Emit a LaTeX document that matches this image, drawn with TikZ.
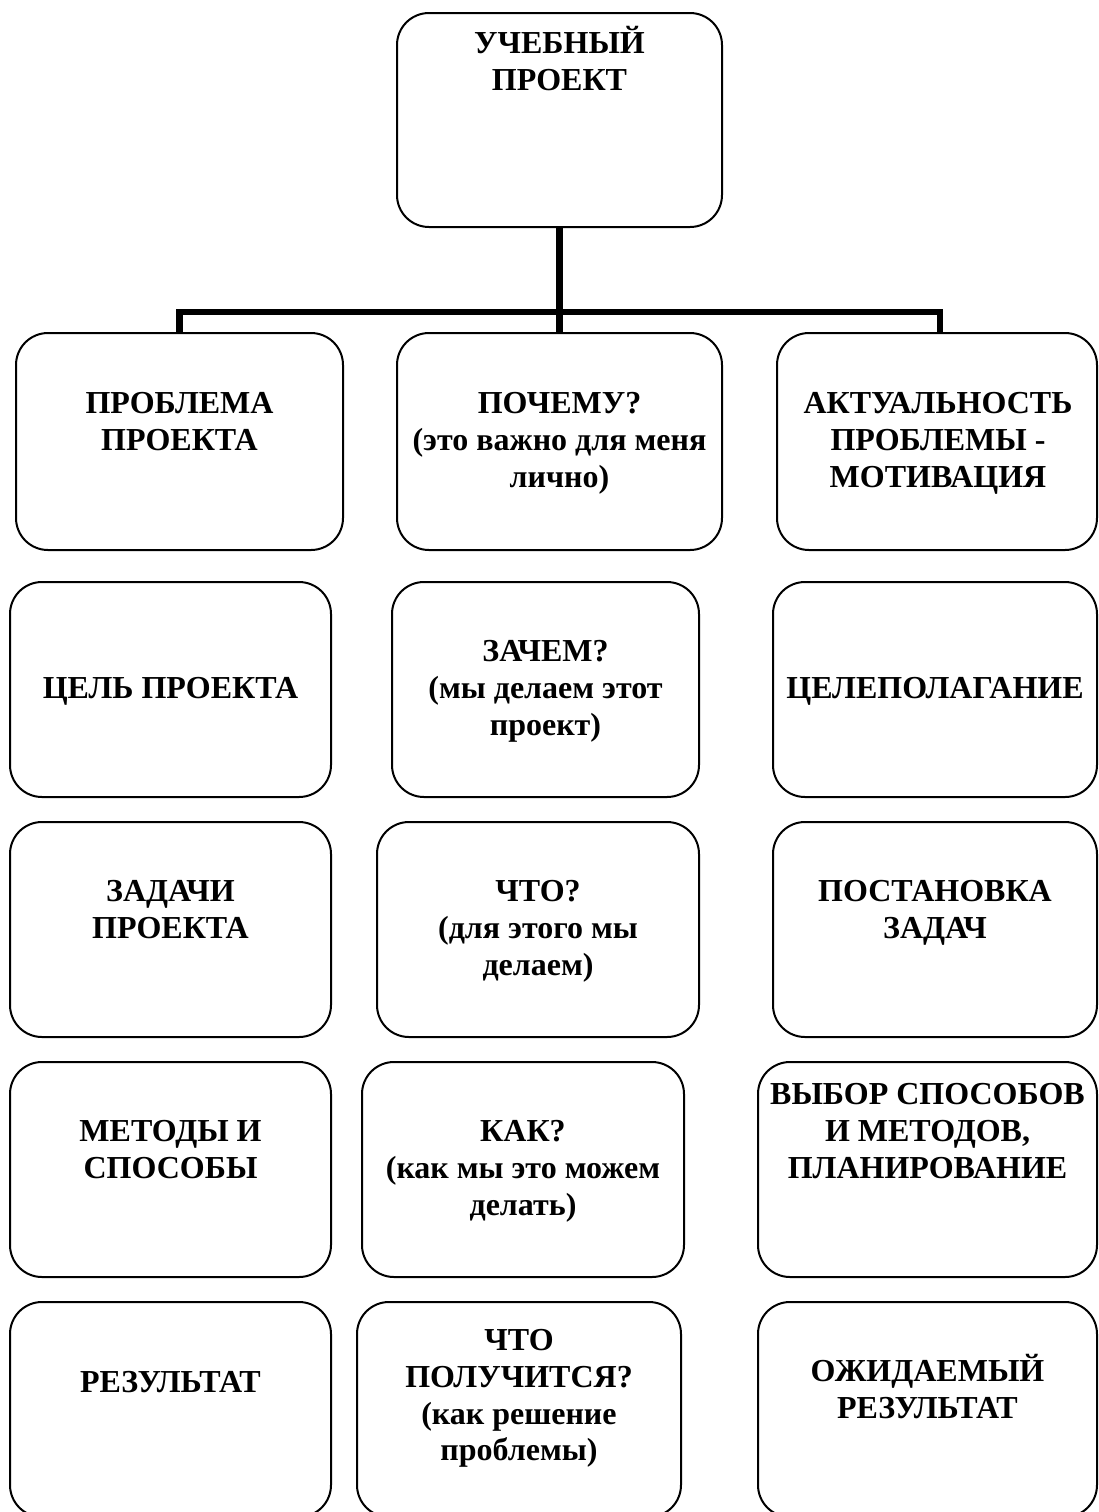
\documentclass[tikz,border=0pt]{standalone}
\usepackage{fontspec}
\setmainfont{Liberation Serif}
\newcommand\mkbox[5]{\node[box, anchor=north west, minimum width={(#4-#2)*0.5pt}, minimum height={(#5-#3)*0.5pt}] (#1) at (#2,#3) {};}
\begin{document}
\begin{tikzpicture}[x=0.5pt,y=-0.5pt,
  box/.style={draw, line width=1pt, rounded corners=16pt, inner sep=0pt, outer sep=0pt},
  lbl/.style={anchor=north, inner sep=0pt, align=center, font=\fontsize{16}{18.4}\selectfont\bfseries},
  conn/.style={line width=3.3pt, line join=miter}]
\useasboundingbox (0,0) rectangle (1099,1512);
\clip (0,0) rectangle (1099,1512);
% boxes
\mkbox{b0}{397}{13}{722}{227}
\mkbox{b11}{16}{333}{343}{550}
\mkbox{b12}{397}{333}{722}{550}
\mkbox{b13}{777}{333}{1097}{550}
\mkbox{b21}{10}{582}{331}{797}
\mkbox{b22}{392}{582}{699}{797}
\mkbox{b23}{773}{582}{1097}{797}
\mkbox{b31}{10}{822}{331}{1037}
\mkbox{b32}{377}{822}{699}{1037}
\mkbox{b33}{773}{822}{1097}{1037}
\mkbox{b41}{10}{1062}{331}{1277}
\mkbox{b42}{362}{1062}{684}{1277}
\mkbox{b43}{758}{1062}{1097}{1277}
\mkbox{b51}{10}{1302}{331}{1517}
\mkbox{b52}{357}{1302}{681}{1517}
\mkbox{b53}{758}{1302}{1097}{1517}
% connectors
\coordinate (hbar) at (560,312);
\coordinate (rdrop) at (940,333);
\draw[conn] (b0.south) -- (b12.north);
\draw[conn] (b11.north) -- (b11.north |- hbar) -- (rdrop |- hbar) -- (rdrop);
% labels
\node[lbl] (t0) at (559.5,13) {\rule{0pt}{20pt}УЧЕБНЫЙ\\ПРОЕКТ};
\node[lbl] (t11) at (179.5,373) {\rule{0pt}{20pt}ПРОБЛЕМА\\ПРОЕКТА};
\node[lbl] (t12) at (559.5,373) {\rule{0pt}{20pt}ПОЧЕМУ?\\(это важно для меня\\лично)};
\node[lbl] (t13) at (938,373) {\rule{0pt}{20pt}АКТУАЛЬНОСТЬ\\ПРОБЛЕМЫ -\\МОТИВАЦИЯ};
\node[lbl] (t21) at (170.5,658) {\rule{0pt}{20pt}ЦЕЛЬ ПРОЕКТА};
\node[lbl] (t22) at (545.5,621) {\rule{0pt}{20pt}ЗАЧЕМ?\\(мы делаем этот\\проект)};
\node[lbl] (t23) at (935,658) {\rule{0pt}{20pt}ЦЕЛЕПОЛАГАНИЕ};
\node[lbl] (t31) at (170.5,861) {\rule{0pt}{20pt}ЗАДАЧИ\\ПРОЕКТА};
\node[lbl] (t32) at (538,861) {\rule{0pt}{20pt}ЧТО?\\(для этого мы\\делаем)};
\node[lbl] (t33) at (935,861) {\rule{0pt}{20pt}ПОСТАНОВКА\\ЗАДАЧ};
\node[lbl] (t41) at (170.5,1101) {\rule{0pt}{20pt}МЕТОДЫ И\\СПОСОБЫ};
\node[lbl] (t42) at (523,1101) {\rule{0pt}{20pt}КАК?\\(как мы это можем\\делать)};
\node[lbl] (t43) at (927.5,1064) {\rule{0pt}{20pt}ВЫБОР СПОСОБОВ\\И МЕТОДОВ,\\ПЛАНИРОВАНИЕ};
\node[lbl] (t51) at (170.5,1352) {\rule{0pt}{20pt}РЕЗУЛЬТАТ};
\node[lbl] (t52) at (519,1310) {\rule{0pt}{20pt}ЧТО\\ПОЛУЧИТСЯ?\\(как решение\\проблемы)};
\node[lbl] (t53) at (927.5,1341) {\rule{0pt}{20pt}ОЖИДАЕМЫЙ\\РЕЗУЛЬТАТ};
\end{tikzpicture}
\end{document}
